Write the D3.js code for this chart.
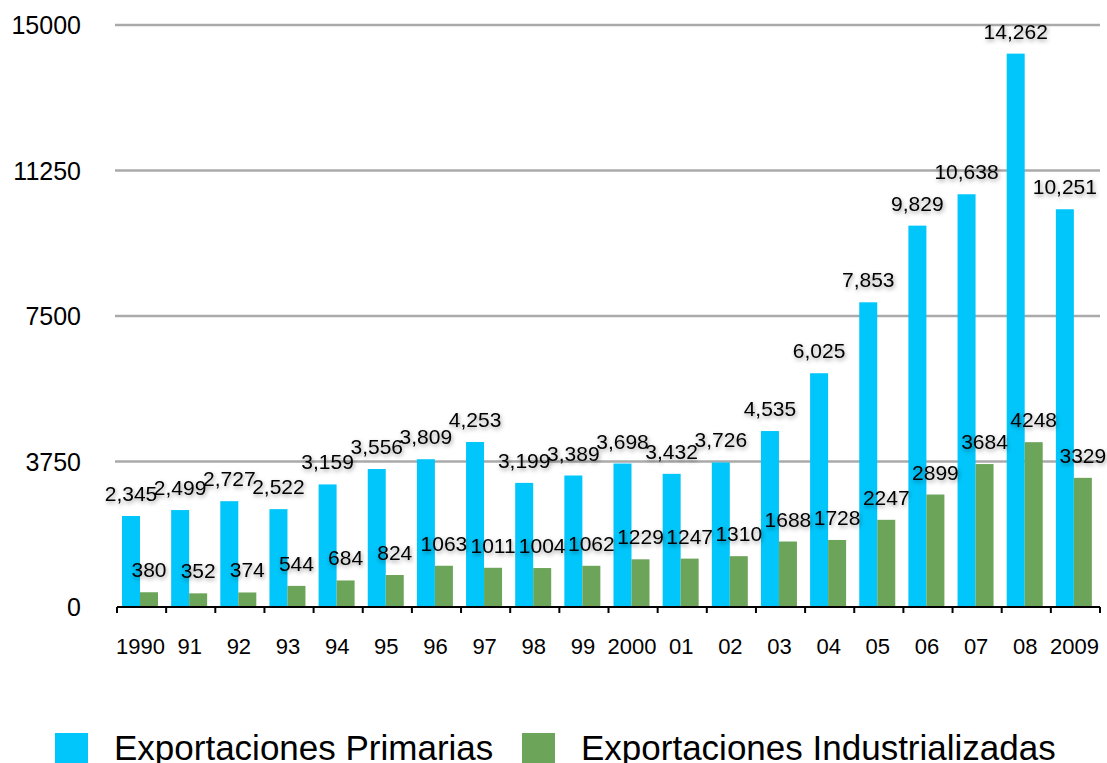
<!DOCTYPE html>
<html>
<head>
<meta charset="utf-8">
<script src="https://cdn.jsdelivr.net/npm/d3@7"></script>
<style>
    body { margin: 0; background: #fff; }
    svg { display: block; font-family: "Liberation Sans", Arial, Helvetica, sans-serif; }
</style>
</head>
<body>
<svg id="chart" width="1107" height="763"></svg>
<script>
var years = ['1990', '91', '92', '93', '94', '95', '96', '97', '98', '99', '2000', '01', '02', '03', '04', '05', '06', '07', '08', '2009'];
var primarias = [2345, 2499, 2727, 2522, 3159, 3556, 3809, 4253, 3199, 3389, 3698, 3432, 3726, 4535, 6025, 7853, 9829, 10638, 14262, 10251];
var industrializadas = [380, 352, 374, 544, 684, 824, 1063, 1011, 1004, 1062, 1229, 1247, 1310, 1688, 1728, 2247, 2899, 3684, 4248, 3329];
var yTicks = [0, 3750, 7500, 11250, 15000];
var seriesNames = ['Exportaciones Primarias', 'Exportaciones Industrializadas'];
var colors = ['#00c6fb', '#6ca459'];

var svg = d3.select('#chart');
var plotLeft = 117, plotRight = 1100, plotTop = 25, plotBottom = 607;

var x = d3.scaleBand().domain(years).range([plotLeft, plotRight]);
var xs = d3.scaleBand().domain([0, 1]).range([5, 41]);
var y = d3.scaleLinear().domain([0, 15000]).range([plotBottom, plotTop]);

var defs = svg.append('defs');
defs.append('filter')
    .attr('id', 'shadow')
    .attr('x', '-20%').attr('y', '-30%').attr('width', '140%').attr('height', '170%')
    .append('feDropShadow')
    .attr('dx', 1).attr('dy', 2)
    .attr('stdDeviation', 2)
    .attr('flood-color', '#000')
    .attr('flood-opacity', 0.4);

// gridlines
svg.append('g')
    .selectAll('line')
    .data(yTicks.filter(function (d) { return d > 0; }))
    .enter()
    .append('line')
    .attr('x1', plotLeft - 2).attr('x2', plotRight)
    .attr('y1', function (d) { return y(d); })
    .attr('y2', function (d) { return y(d); })
    .attr('stroke', '#aaaaaa')
    .attr('stroke-width', 2.5);

// y labels
svg.append('g')
    .selectAll('text')
    .data(yTicks)
    .enter()
    .append('text')
    .attr('x', 81)
    .attr('y', function (d) { return y(d) + 9; })
    .attr('text-anchor', 'end')
    .attr('font-size', 25)
    .attr('fill', '#000')
    .text(function (d) { return d; });

var data = years.map(function (yr, i) {
    return { year: yr, values: [primarias[i], industrializadas[i]] };
});

var groups = svg.append('g')
    .selectAll('g')
    .data(data)
    .enter()
    .append('g')
    .attr('transform', function (d) { return 'translate(' + x(d.year) + ',0)'; });

groups.selectAll('rect')
    .data(function (d) { return d.values; })
    .enter()
    .append('rect')
    .attr('x', function (d, i) { return xs(i); })
    .attr('width', xs.bandwidth())
    .attr('y', function (d) { return y(d); })
    .attr('height', function (d) { return plotBottom - y(d); })
    .attr('fill', function (d, i) { return colors[i]; });

// axis baseline and ticks
var axis = svg.append('g');
axis.append('line')
    .attr('x1', plotLeft).attr('x2', plotRight)
    .attr('y1', plotBottom).attr('y2', plotBottom)
    .attr('stroke', '#000')
    .attr('stroke-width', 2);
axis.selectAll('.tick')
    .data(years.map(function (d) { return x(d); }).concat([plotRight]))
    .enter()
    .append('line')
    .attr('class', 'tick')
    .attr('x1', function (d) { return d; })
    .attr('x2', function (d) { return d; })
    .attr('y1', plotBottom).attr('y2', plotBottom + 6)
    .attr('stroke', '#000')
    .attr('stroke-width', 2);

axis.selectAll('.xlabel')
    .data(years)
    .enter()
    .append('text')
    .attr('class', 'xlabel')
    .attr('x', function (d) { return x(d) + x.bandwidth() / 2 - 1; })
    .attr('y', 654)
    .attr('text-anchor', 'middle')
    .attr('font-size', 22)
    .text(function (d) { return d; });

// value labels
var fmt = d3.format(',');
[0, 1].forEach(function (s) {
    svg.append('g')
        .attr('filter', 'url(#shadow)')
        .selectAll('text')
        .data(data)
        .enter()
        .append('text')
        .attr('x', function (d) { return x(d.year) + xs(s) + xs.bandwidth() / 2; })
        .attr('y', function (d) { return y(d.values[s]) - 15; })
        .attr('text-anchor', 'middle')
        .attr('font-size', 21)
        .attr('fill', '#000')
        .text(function (d) { return s === 0 ? fmt(d.values[s]) : d.values[s]; });
});

// legend
var legendX = [55, 522];
var legend = svg.append('g')
    .selectAll('g')
    .data(seriesNames)
    .enter()
    .append('g')
    .attr('transform', function (d, i) { return 'translate(' + legendX[i] + ',733)'; });

legend.append('rect')
    .attr('width', 33)
    .attr('height', 31)
    .attr('fill', function (d, i) { return colors[i]; });

legend.append('text')
    .attr('x', 59)
    .attr('y', 27)
    .attr('font-size', 35)
    .text(function (d) { return d; });
</script>
</body>
</html>
